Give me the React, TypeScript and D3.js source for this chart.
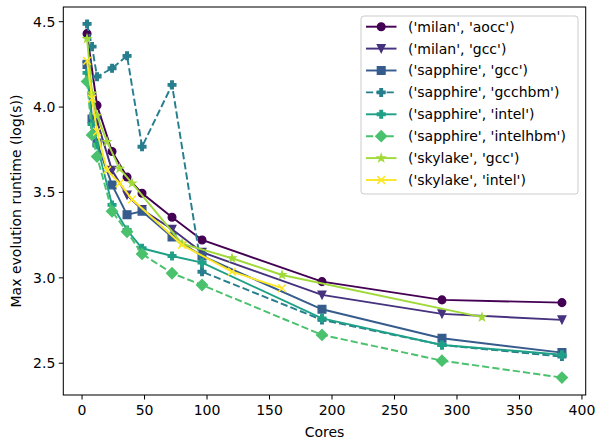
import React from "react";
import * as d3 from "d3";

// cores / runtime per machine+compiler
const milanAoccCores = [4, 12, 24, 36, 48, 72, 96, 192, 288, 384];
const milanAoccTime = [4.43, 4.01, 3.74, 3.59, 3.495, 3.355, 3.222, 2.978, 2.871, 2.855];

const milanGccCores = [4, 12, 24, 36, 48, 72, 96, 192, 288, 384];
const milanGccTime = [4.24, 3.92, 3.63, 3.485, 3.40, 3.285, 3.15, 2.90, 2.789, 2.754];

const sapphireGccCores = [4, 8, 12, 24, 36, 48, 72, 96, 192, 288, 384];
const sapphireGccTime = [4.25, 3.93, 3.79, 3.544, 3.37, 3.39, 3.24, 3.128, 2.816, 2.646, 2.562];

const sapphireGcchbmCores = [4, 8, 12, 24, 36, 48, 72, 96, 192, 288, 384];
const sapphireGcchbmTime = [4.487, 4.354, 4.178, 4.227, 4.30, 3.768, 4.13, 3.036, 2.754, 2.607, 2.539];

const sapphireIntelCores = [4, 8, 12, 24, 36, 48, 72, 96, 192, 288, 384];
const sapphireIntelTime = [4.2, 3.9, 3.78, 3.427, 3.28, 3.173, 3.128, 3.089, 2.763, 2.607, 2.55];

const sapphireIntelhbmCores = [4, 8, 12, 24, 36, 48, 72, 96, 192, 288, 384];
const sapphireIntelhbmTime = [4.15, 3.837, 3.71, 3.39, 3.27, 3.14, 3.027, 2.958, 2.666, 2.515, 2.416];

const skylakeGccCores = [4, 8, 12, 20, 30, 40, 80, 120, 160, 320];
const skylakeGccTime = [4.40, 4.08, 3.95, 3.797, 3.64, 3.554, 3.20, 3.115, 3.017, 2.77];

const skylakeIntelCores = [4, 8, 12, 20, 30, 40, 80, 120, 160];
const skylakeIntelTime = [4.27, 4.05, 3.856, 3.63, 3.554, 3.46, 3.193, 3.036, 2.94];

const labels = [
  "('milan', 'aocc')",
  "('milan', 'gcc')",
  "('sapphire', 'gcc')",
  "('sapphire', 'gcchbm')",
  "('sapphire', 'intel')",
  "('sapphire', 'intelhbm')",
  "('skylake', 'gcc')",
  "('skylake', 'intel')",
];
const xTicks = [0, 50, 100, 150, 200, 250, 300, 350, 400];
const yTicks = [2.5, 3.0, 3.5, 4.0, 4.5];

const colors = ["#440154", "#46327e", "#365c8d", "#277f8e", "#1fa187", "#4ac16d", "#a0da39", "#fde725"];
const markers = ["o", "v", "s", "P", "P", "D", "*", "x"];
const dashed = [false, false, false, true, false, true, false, false];

const series = [
  [milanAoccCores, milanAoccTime],
  [milanGccCores, milanGccTime],
  [sapphireGccCores, sapphireGccTime],
  [sapphireGcchbmCores, sapphireGcchbmTime],
  [sapphireIntelCores, sapphireIntelTime],
  [sapphireIntelhbmCores, sapphireIntelhbmTime],
  [skylakeGccCores, skylakeGccTime],
  [skylakeIntelCores, skylakeIntelTime],
].map(([c, t], i) => ({
  label: labels[i],
  color: colors[i],
  marker: markers[i],
  dashed: dashed[i],
  pts: c.map((v, j) => [v, t[j]] as [number, number]),
}));

const W = 595;
const H = 442;
const L = 63.3, R = 585.7, T = 7, B = 395;
const FONT = "DejaVu Sans, sans-serif";
const FS = 14;
const MS = 7.75; // markersize in px

const x = d3.scaleLinear().domain([-15, 403]).range([L, R]);
const y = d3.scaleLinear().domain([2.314, 4.586]).range([B, T]);

function markerPath(m: string, s: number): string {
  const h = s / 2;
  if (m === "o") return d3.symbol(d3.symbolCircle, Math.PI * h * h)() as string;
  if (m === "v") return `M0,${h}L${-h},${-h}L${h},${-h}Z`;
  if (m === "s") return `M${-h},${-h}H${h}V${h}H${-h}Z`;
  if (m === "D") {
    const d = s * 0.707;
    return `M0,${-d}L${d},0L0,${d}L${-d},0Z`;
  }
  if (m === "P") {
    const a = s / 6, b = s / 2;
    return `M${-a},${-b}H${a}V${-a}H${b}V${a}H${a}V${b}H${-a}V${a}H${-b}V${-a}H${-a}Z`;
  }
  if (m === "*") {
    const pts: string[] = [];
    for (let k = 0; k < 10; k++) {
      const r = k % 2 === 0 ? h : h * 0.381966;
      const ang = (k * Math.PI) / 5;
      pts.push(`${r * Math.sin(ang)},${-r * Math.cos(ang)}`);
    }
    return "M" + pts.join("L") + "Z";
  }
  // x
  return `M${-h},${-h}L${h},${h}M${-h},${h}L${h},${-h}`;
}

function Marker({ m, color, cx, cy }: { m: string; color: string; cx: number; cy: number }) {
  const d = markerPath(m, MS);
  if (m === "x")
    return <path d={d} transform={`translate(${cx},${cy})`} fill="none" stroke={color} strokeWidth={1.5} />;
  return (
    <path d={d} transform={`translate(${cx},${cy})`} fill={color} stroke={color} strokeWidth={1.3} strokeLinejoin="miter" />
  );
}

const line = d3
  .line<[number, number]>()
  .x((d) => x(d[0]))
  .y((d) => y(d[1]));

export default function App() {
  const legX = 361, legY = 16, legW = 217, legH = 178;
  const rowH = 21.9;
  return (
    <svg width={W} height={H} style={{ position: "absolute", left: 0, top: 0, background: "#fff" }} fontFamily={FONT}>
      <rect width={W} height={H} fill="#fff" />
      <defs>
        <clipPath id="plot">
          <rect x={L} y={T} width={R - L} height={B - T} />
        </clipPath>
      </defs>

      {/* series */}
      <g clipPath="url(#plot)">
        {series.map((s) => (
          <g key={s.label}>
            <path
              d={line(s.pts) as string}
              fill="none"
              stroke={s.color}
              strokeWidth={1.94}
              strokeDasharray={s.dashed ? "7.2,3.1" : undefined}
            />
            {s.pts.map((p, j) => (
              <Marker key={j} m={s.marker} color={s.color} cx={x(p[0])} cy={y(p[1])} />
            ))}
          </g>
        ))}
      </g>

      {/* axes frame */}
      <rect x={L} y={T} width={R - L} height={B - T} fill="none" stroke="#000" strokeWidth={1.03} />

      {/* x ticks */}
      {xTicks.map((t) => (
        <g key={t} transform={`translate(${x(t)},${B})`}>
          <line y2={4.5} stroke="#000" strokeWidth={1.03} />
          <text y={20} textAnchor="middle" fontSize={FS} fill="#000">
            {t}
          </text>
        </g>
      ))}
      {/* y ticks */}
      {yTicks.map((t) => (
        <g key={t} transform={`translate(${L},${y(t)})`}>
          <line x2={-4.5} stroke="#000" strokeWidth={1.03} />
          <text x={-8} dy="0.35em" textAnchor="end" fontSize={FS} fill="#000">
            {t.toFixed(1)}
          </text>
        </g>
      ))}

      <text x={(L + R) / 2} y={437} textAnchor="middle" fontSize={FS} fill="#000">
        Cores
      </text>
      <text
        transform={`translate(21,${(T + B) / 2}) rotate(-90)`}
        textAnchor="middle"
        fontSize={FS}
        fill="#000"
      >
        Max evolution runtime (log(s))
      </text>

      {/* legend */}
      <rect x={legX} y={legY} width={legW} height={legH} rx={3} fill="#fff" fillOpacity={0.8} stroke="#cccccc" strokeWidth={1} />
      {series.map((s, i) => {
        const cy = legY + 10.7 + i * rowH;
        return (
          <g key={s.label}>
            <line
              x1={366}
              x2={396.5}
              y1={cy}
              y2={cy}
              stroke={s.color}
              strokeWidth={1.94}
              strokeDasharray={s.dashed ? "7.2,3.1" : undefined}
            />
            <Marker m={s.marker} color={s.color} cx={381.2} cy={cy} />
            <text x={408} y={cy} dy="0.35em" fontSize={FS} fill="#000">
              {s.label}
            </text>
          </g>
        );
      })}
    </svg>
  );
}
